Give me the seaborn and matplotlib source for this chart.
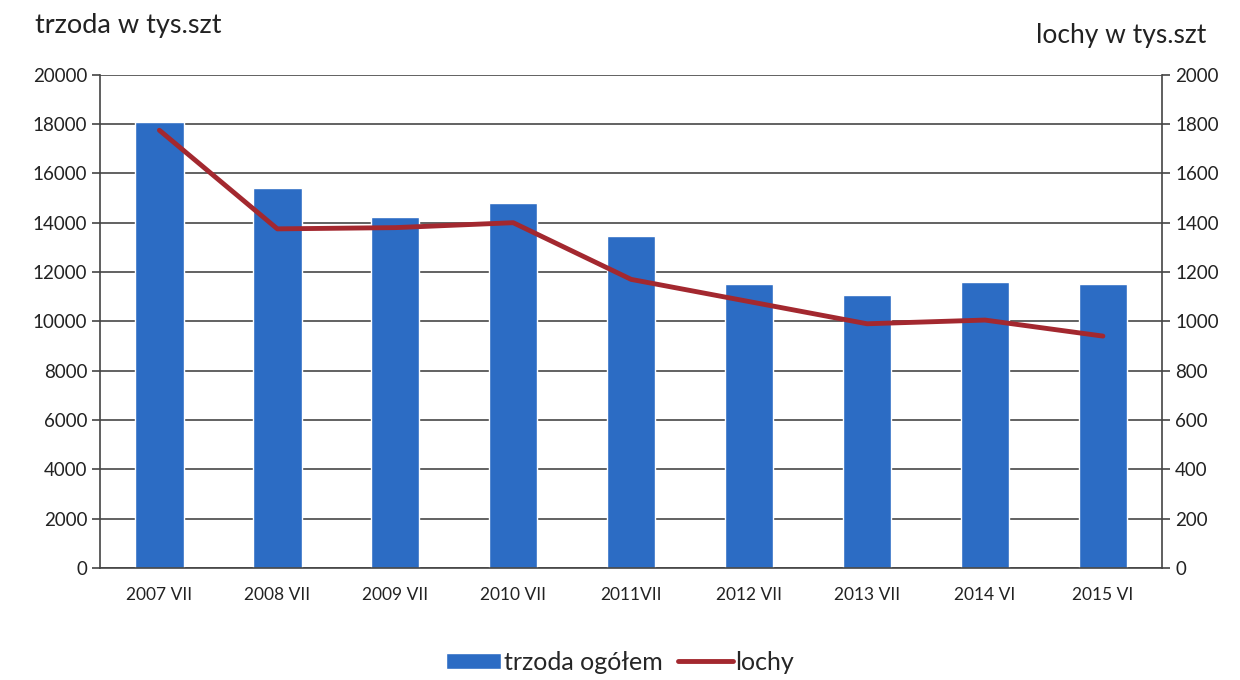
import pandas as pd
import numpy as np
import matplotlib.pyplot as plt
import seaborn as sns

# dane
okresy = ["2007 VII", "2008 VII", "2009 VII", "2010 VII", "2011VII",
          "2012 VII", "2013 VII", "2014 VI", "2015 VI"]
trzoda = [18100, 15400, 14250, 14800, 13450, 11500, 11050, 11600, 11500]
lochy = [1775, 1375, 1380, 1400, 1170, 1080, 990, 1005, 940]

df = pd.DataFrame({"okres": okresy, "trzoda": trzoda, "lochy": lochy})

sns.set_style("white")
plt.rcParams['font.family'] = ['Lato', 'DejaVu Sans']

fig, ax = plt.subplots(figsize=(12.4, 6.8), dpi=100)
fig.subplots_adjust(left=0.081, right=0.937, top=0.89, bottom=0.165)

sns.barplot(data=df, x="okres", y="trzoda", color="#2c6cc4", width=0.41,
            saturation=1, ax=ax, zorder=2, label="trzoda ogółem")
ax.set_ylim(0, 20000)
ax.set_yticks(np.arange(0, 20001, 2000))
ax.set_xlim(-0.5, len(okresy) - 0.5)
ax.yaxis.grid(True, color="#555555", linewidth=1.3, zorder=0)
ax.set_axisbelow(True)
ax.set_xlabel("")
ax.set_ylabel("")

ax2 = ax.twinx()
sns.lineplot(data=df, x="okres", y="lochy", color="#a3282f", linewidth=3.5,
             ax=ax2, label="lochy", legend=False)
ax2.set_ylim(0, 2000)
ax2.set_yticks(np.arange(0, 2001, 200))
ax2.set_ylabel("")
ax2.set_xlim(-0.5, len(okresy) - 0.5)

for a in (ax, ax2):
    for s in a.spines.values():
        s.set_visible(False)
ax.spines["left"].set_visible(True)
ax.spines["bottom"].set_visible(True)
ax2.spines["right"].set_visible(True)
for s in (ax.spines["left"], ax.spines["bottom"], ax2.spines["right"]):
    s.set_color("#444444")
    s.set_linewidth(1.2)

# znaczniki osi X na granicach kategorii
ax.set_xticks(np.arange(len(okresy)))
ax.set_xticklabels(okresy)
ax.set_xticks(np.arange(-0.5, len(okresy)), minor=True)
ax.tick_params(axis="x", which="major", length=0, labelsize=12.5, pad=14, colors="#222222")
ax.tick_params(axis="x", which="minor", length=6, width=1.2, color="#444444", direction="out")
ax.tick_params(axis="y", length=6, width=1.2, color="#444444", labelsize=13.5, colors="#222222", left=True)
ax2.tick_params(axis="y", length=6, width=1.2, color="#444444", labelsize=13.5, colors="#222222", right=True)

fig.text(0.028, 0.963, "trzoda w tys.szt", fontsize=19.5, color="#222222", va="center")
fig.text(0.973, 0.948, "lochy w tys.szt", fontsize=19, color="#222222", ha="right", va="center")

h1, l1 = ax.get_legend_handles_labels()
h2, l2 = ax2.get_legend_handles_labels()
if ax.get_legend() is not None:
    ax.get_legend().remove()
fig.legend(h1 + h2, l1 + l2, loc="center", bbox_to_anchor=(0.5, 0.026), ncol=2,
           frameon=False, fontsize=18, handlelength=2.2, handleheight=0.6, columnspacing=0.6,
           handletextpad=0.1)

fig.savefig("out.png", dpi=100)
